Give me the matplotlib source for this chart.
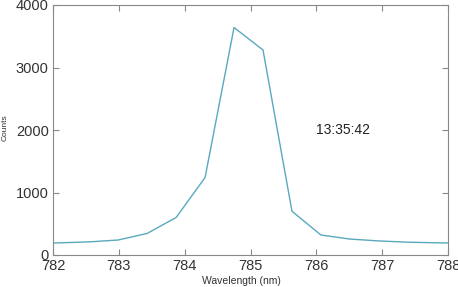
import matplotlib
matplotlib.use("Agg")
import matplotlib.pyplot as plt

# spectrum
wavelength = [781.67, 782.11, 782.55, 782.99, 783.43, 783.87, 784.31, 784.75,
              785.19, 785.63, 786.07, 786.51, 786.95, 787.39, 787.83, 788.27]
counts = [180, 195, 210, 240, 345, 600, 1240, 3640,
          3280, 700, 320, 255, 225, 205, 195, 190]
x_ticks = [782, 783, 784, 785, 786, 787, 788]
y_ticks = [0, 1000, 2000, 3000, 4000]
timestamp = "13:35:42"

plt.rcParams["font.family"] = ["Liberation Sans", "DejaVu Sans"]

fig = plt.figure(figsize=(4.58, 2.87), dpi=100)
ax = fig.add_axes([53 / 458, 1 - 255 / 287, 395 / 458, 250 / 287])

ax.plot(wavelength, counts, color="#5aa8be", lw=1.0)
ax.set_xlim(782, 788)
ax.set_ylim(0, 4000)
ax.set_xticks(x_ticks)
ax.set_yticks(y_ticks)

ax.tick_params(direction="in", length=4, width=0.8, colors="#888888",
               labelcolor="#333333", labelsize=10.5, top=True, right=True, pad=3)
for s in ax.spines.values():
    s.set_color("#888888")
    s.set_linewidth(0.8)

ax.text(786.4, 2000, timestamp, fontsize=10, color="#222222", ha="center", va="center")

fig.text(241 / 458, 1 - 281 / 287, "Wavelength (nm)", fontsize=7.5, color="#333333",
         ha="center", va="center")
fig.text(5 / 458, 1 - 128 / 287, "Counts", fontsize=6, color="#333333",
         ha="center", va="center", rotation=90)

fig.savefig("out.png", dpi=100)
